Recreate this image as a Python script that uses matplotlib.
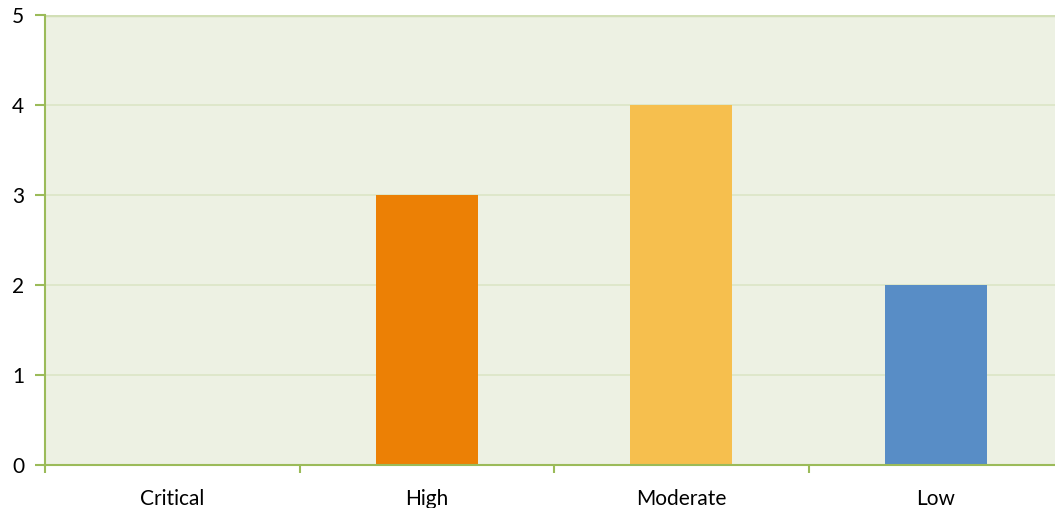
import matplotlib
matplotlib.use("Agg")
import matplotlib.pyplot as plt
from matplotlib.ticker import FixedLocator, NullFormatter

categories = ["Critical", "High", "Moderate", "Low"]
counts = [0, 3, 4, 2]
bar_colors = ["#C0504D", "#EC8005", "#F6BF4E", "#588DC6"]
y_ticks = [0, 1, 2, 3, 4, 5]

plt.rcParams["font.family"] = ["Lato", "DejaVu Sans"]

fig = plt.figure(figsize=(10.55, 5.08), dpi=100)
W, H = 1055, 508
ax = fig.add_axes([45 / W, 43 / H, 1018 / W, 450 / H])
ax.set_facecolor("#EDF1E3")

x = list(range(len(categories)))
ax.bar(x, counts, width=0.4, color=bar_colors, zorder=3)

ax.set_xlim(-0.5, len(categories) - 0.5)
ax.set_ylim(0, 5)

ax.set_yticks(y_ticks)
ax.set_yticklabels([str(v) for v in y_ticks], fontsize=15)
ax.yaxis.grid(True, color="#DCE5C6", linewidth=1.2, zorder=1)
ax.set_axisbelow(True)
# slightly stronger line along the top of the plot area
ax.axhline(5, color="#D2DFB6", linewidth=2.5, zorder=2)

# category labels centred, ticks at the category boundaries
ax.xaxis.set_major_locator(FixedLocator(x))
ax.set_xticklabels(categories, fontsize=15)
ax.tick_params(axis="x", which="major", length=0, pad=17)
ax.xaxis.set_minor_locator(FixedLocator([i - 0.5 for i in range(len(categories) + 1)]))
ax.xaxis.set_minor_formatter(NullFormatter())
ax.tick_params(axis="x", which="minor", length=6, width=1.5, color="#9BBB59")
ax.tick_params(axis="y", length=7, width=1.5, color="#9BBB59", pad=8)

for side in ["top", "right"]:
    ax.spines[side].set_visible(False)
for side in ["left", "bottom"]:
    ax.spines[side].set_color("#9BBB59")
    ax.spines[side].set_linewidth(1.5)
    ax.spines[side].set_zorder(4)

fig.savefig("out.png", dpi=100)
